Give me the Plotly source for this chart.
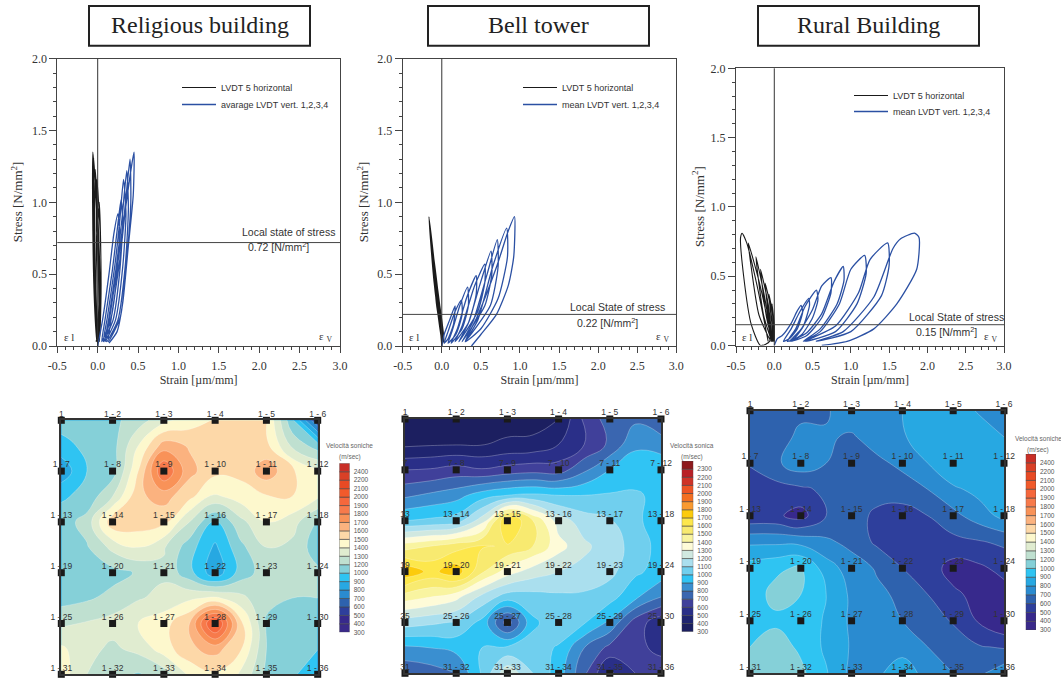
import numpy as np
import plotly.graph_objects as go

W, H = 1061, 679

TITLES = ["Religious building", "Bell tower", "Rural Building"]
LEGEND_BLACK = "LVDT 5 horizontal"
LEGEND_BLUE = ["avarage LVDT vert. 1,2,3,4", "mean LVDT vert. 1,2,3,4", "mean LVDT vert. 1,2,3,4"]
STATE_VALUES = [0.72, 0.22, 0.15]
STATE_TEXT = ["Local state of stress", "Local State of stress", "Local State of stress"]
STATE_VALUE_TEXT = ["0.72 [N/mm<sup>2</sup>]", "0.22 [N/mm<sup>2</sup>]", "0.15 [N/mm<sup>2</sup>]"]
STRAIN_TICKS = [-0.5, 0, 0.5, 1, 1.5, 2, 2.5, 3]
STRAIN_LABELS = ["-0.5", "0.0", "0.5", "1.0", "1.5", "2.0", "2.5", "3.0"]
STRESS_TICKS = [0, 0.5, 1, 1.5, 2]
STRESS_LABELS = ["0.0", "0.5", "1.0", "1.5", "2.0"]

P1_BLACK = [(0.00,0.0),(-0.02,0.40),(-0.01,0.7),(0.02,1.0),(0.04,0.6),(0.04,0.3),(0.02,0.03),
            (-0.02,0.3),(-0.02,0.7),(-0.01,1.16),(0.03,0.8),(0.04,0.4),(0.01,0.03),
            (-0.03,0.4),(-0.04,0.8),(-0.03,1.23),(0.01,0.8),(0.03,0.4),(0.0,0.03),
            (-0.04,0.4),(-0.05,0.9),(-0.05,1.31),(-0.01,0.9),(0.02,0.4),(-0.01,0.03),
            (-0.04,0.3),(-0.06,0.8),(-0.06,1.35),(-0.02,1.0),(0.01,0.5),(0.01,0.1),(-0.02,0.03)]
P1_BLUE = [(0.0,0.0),(0.06,0.18),(0.14,0.5),(0.20,0.78),(0.25,0.92),(0.27,0.80),(0.24,0.50),(0.16,0.18),(0.05,0.03),
           (0.09,0.18),(0.18,0.52),(0.24,0.80),(0.29,1.02),(0.31,0.85),(0.27,0.50),(0.19,0.18),(0.07,0.03),
           (0.12,0.2),(0.21,0.55),(0.27,0.85),(0.32,1.16),(0.35,0.92),(0.31,0.55),(0.22,0.18),(0.09,0.03),
           (0.14,0.2),(0.23,0.55),(0.30,0.88),(0.36,1.22),(0.38,0.95),(0.34,0.55),(0.25,0.18),(0.11,0.03),
           (0.15,0.2),(0.25,0.58),(0.33,0.92),(0.40,1.30),(0.41,1.0),(0.36,0.6),(0.28,0.2),(0.13,0.03),
           (0.17,0.2),(0.27,0.58),(0.35,0.98),(0.45,1.35),(0.44,1.05),(0.38,0.70),(0.31,0.30),(0.24,0.10),(0.14,0.02)]
P2_BLACK = [(0.02,0.03),(-0.04,0.2),(-0.05,0.32),(-0.01,0.2),(0.03,0.02),
            (-0.04,0.2),(-0.065,0.41),(-0.02,0.26),(0.03,0.03),
            (-0.05,0.25),(-0.08,0.49),(-0.03,0.3),(0.02,0.03),
            (-0.06,0.3),(-0.10,0.57),(-0.04,0.33),(0.01,0.03),
            (-0.07,0.3),(-0.115,0.66),(-0.05,0.38),(0.0,0.03),
            (-0.09,0.4),(-0.135,0.74),(-0.06,0.42),(0.01,0.03),
            (-0.10,0.45),(-0.15,0.82),(-0.07,0.45),(0.01,0.02),
            (-0.10,0.45),(-0.165,0.90),(-0.09,0.55),(-0.03,0.2),(0.0,0.0)]
P2_BLUE = [(0.0,0.0),(0.03,0.08),(0.10,0.18),(0.17,0.28),(0.15,0.15),(0.08,0.05),(0.03,0.02),
           (0.08,0.10),(0.17,0.24),(0.25,0.32),(0.26,0.22),(0.18,0.08),(0.08,0.02),
           (0.13,0.10),(0.23,0.28),(0.33,0.41),(0.34,0.28),(0.26,0.12),(0.12,0.02),
           (0.20,0.12),(0.32,0.34),(0.44,0.49),(0.44,0.36),(0.34,0.16),(0.17,0.03),
           (0.26,0.14),(0.42,0.42),(0.55,0.57),(0.55,0.44),(0.46,0.24),(0.22,0.03),
           (0.34,0.16),(0.50,0.45),(0.63,0.66),(0.64,0.50),(0.55,0.28),(0.26,0.03),
           (0.40,0.17),(0.58,0.50),(0.71,0.74),(0.72,0.55),(0.62,0.28),(0.30,0.03),
           (0.46,0.18),(0.65,0.55),(0.83,0.82),(0.84,0.62),(0.72,0.33),(0.50,0.12),(0.30,0.03),
           (0.45,0.2),(0.70,0.55),(0.85,0.80),(0.93,0.90),(0.92,0.62),(0.85,0.42),(0.70,0.22),(0.50,0.08),(0.38,0.0)]
P3_BLACK = [(0.0,0.03),(-0.02,0.2),(-0.03,0.30),(0.0,0.15),(0.0,0.03),
            (-0.04,0.2),(-0.07,0.37),(-0.02,0.22),(-0.01,0.03),
            (-0.07,0.2),(-0.12,0.45),(-0.05,0.28),(-0.02,0.03),
            (-0.10,0.2),(-0.18,0.55),(-0.08,0.3),(-0.03,0.03),
            (-0.14,0.22),(-0.24,0.64),(-0.13,0.36),(-0.04,0.03),
            (-0.20,0.22),(-0.31,0.60),(-0.34,0.74),(-0.18,0.42),(-0.06,0.03),
            (-0.18,0.0),(-0.30,0.15),(-0.40,0.50),(-0.44,0.78),(-0.42,0.81),(-0.36,0.74),(-0.22,0.42),(-0.08,0.03)]
P3_BLUE = [(0.00,0.00),(0.04,0.05),(0.10,0.07),(0.22,0.16),(0.30,0.25),(0.35,0.29),
           (0.37,0.24),(0.30,0.12),(0.20,0.05),(0.12,0.03),
           (0.22,0.12),(0.33,0.24),(0.45,0.34),(0.46,0.29),(0.38,0.14),(0.26,0.05),(0.17,0.03),
           (0.28,0.12),(0.40,0.28),(0.55,0.40),(0.57,0.33),(0.50,0.20),(0.36,0.08),(0.20,0.03),
           (0.34,0.11),(0.50,0.26),(0.62,0.43),(0.74,0.49),(0.74,0.38),(0.62,0.20),(0.42,0.07),(0.22,0.03),
           (0.42,0.09),(0.62,0.23),(0.78,0.46),(0.90,0.57),(0.91,0.47),(0.82,0.30),(0.60,0.12),(0.38,0.03),
           (0.60,0.10),(0.85,0.30),(1.00,0.55),(1.18,0.65),(1.20,0.52),(1.08,0.30),(0.80,0.10),(0.40,0.03),
           (0.80,0.14),(1.10,0.38),(1.25,0.62),(1.48,0.74),(1.50,0.58),(1.40,0.36),(1.00,0.10),(0.55,0.03),
           (0.90,0.10),(1.30,0.35),(1.55,0.70),(1.65,0.77),(1.83,0.81),(1.89,0.78),(1.86,0.55),(1.60,0.30),(1.30,0.12),(0.95,0.03),(0.62,0.0)]

GRID = [0, 0.5, 1, 1.5, 2, 2.5, 3, 3.5, 4, 4.5, 5]
Z1 = [[1100,1100,1150,1250,1370,1450,1510,1530,1510,1050,600],
      [960,1060,1120,1400,1650,1590,1540,1530,1530,1280,1100],
      [830,1000,1100,1500,1900,1630,1530,1530,1660,1520,1420],
      [985,1060,1300,1580,1640,1530,1380,1450,1490,1500,1420],
      [1100,1240,1570,1560,1530,1300,990,1270,1400,1350,1150],
      [1100,1180,1330,1400,1310,1090,880,1150,1300,1270,1100],
      [1080,1100,1130,1210,1280,1070,830,1090,1250,1230,1220],
      [1120,1170,1230,1290,1330,1380,1420,1330,1220,1200,1200],
      [1280,1310,1340,1400,1460,1600,2050,1530,1180,1100,1080],
      [1420,1330,1280,1330,1450,1580,1640,1510,1200,1100,1010],
      [1450,1300,1240,1180,1250,1420,1480,1390,1150,1060,880]]
Z2 = [[350,350,350,350,350,350,400,620,750,780,720],
      [380,390,395,395,420,430,500,600,720,880,850],
      [600,610,640,610,640,660,650,780,900,960,980],
      [780,820,860,950,1000,1020,1000,1000,1010,1010,980],
      [1000,1020,1050,1250,1720,1500,1250,1150,1110,1020,950],
      [1450,1500,1560,1610,1590,1500,1340,1220,1150,1060,960],
      [1780,1670,1760,1520,1350,1250,1200,1170,1130,1020,960],
      [1450,1400,1330,1170,1050,1060,1080,1080,1040,920,800],
      [1150,1120,1090,970,650,980,1060,1010,880,650,540],
      [880,900,930,1000,1020,1040,990,800,670,620,580],
      [720,750,800,1010,1280,1100,950,720,480,600,640]]
Z3 = [[650,660,680,690,750,780,800,860,860,790,760],
      [640,660,720,710,690,740,790,850,860,860,800],
      [610,680,760,700,660,680,720,800,900,860,850],
      [540,560,580,620,640,640,660,700,780,830,860],
      [520,520,460,600,640,580,550,600,670,750,830],
      [780,780,770,720,670,580,540,530,570,590,620],
      [950,980,1030,850,750,690,600,550,460,480,530],
      [950,1060,1000,900,780,720,680,600,520,470,460],
      [950,980,950,890,780,740,700,650,590,490,400],
      [1000,1100,980,880,790,760,780,700,660,610,590],
      [1100,1100,1050,910,770,790,830,780,700,680,760]]

LEVELS_A = [300,400,500,600,700,800,900,1000,1200,1300,1400,1500,1600,1700,1800,1900,2000,2100,2200,2400,2600]
LEVEL_LABELS_A = [300,400,500,600,700,800,900,1000,1200,1300,1400,1500,1600,1700,1800,1900,2000,2100,2200,2400]
COLORS_A = ["#3a2a8a","#37298c","#2e3f9c","#2e62ae","#2a8bd0","#27a8e2","#2fc4f2","#85d0d8","#bfe0d0","#e0ecd0",
            "#fdf8cd","#fdd8a8","#fbb27f","#f99258","#f77a4b","#f5673c","#f15a2b","#e84a24","#d94027","#c92f27"]
LEVELS_B = [300,400,500,600,700,800,900,1000,1100,1200,1300,1400,1500,1600,1700,1800,1900,2000,2100,2200,2300,2500]
LEVEL_LABELS_B = LEVELS_B[:-1]
COLORS_B = ["#1c1f60","#1f2470","#2a2f88","#40409a","#3a66b0","#3a8fd0","#30c4f4","#70cfee","#aadfee","#d0e8e0",
            "#fefbd8","#f9f4a0","#f8ea70","#fde74c","#fccb0c","#f99a30","#f36f21","#ed5424","#cf3327","#b92025","#8f1a1d"]

NODE_LABELS_A = ["1","1 - 2","1 - 3","1 - 4","1 - 5","1 - 6"] + [
    ("1 - %d" % k) for k in range(7, 37)]
NODE_LABELS_B = ["1","1 - 2","1 - 3","1 - 4","1 - 5","1 - 6",
                 "7","7 - 8","7 - 9","7 - 10","7 - 11","7 - 12",
                 "13","13 - 14","13 - 15","13 - 16","13 - 17","13 - 18",
                 "19","19 - 20","19 - 21","19 - 22","19 - 23","19 - 24",
                 "25","25 - 26","25 - 27","25 - 28","25 - 29","25 - 30",
                 "31","31 - 32","31 - 33","31 - 34","31 - 35","31 - 36"]
NODE_POS = [0, 1, 2, 3, 4, 5]
BAR_TITLES = [("Velocità soniche", "(m/sec)"), ("Velocità sonica", "(m/sec)"), ("Velocità soniche", "(m/sec)")]

SERIF = "Liberation Serif"
SANS = "Liberation Sans"
GREY = "#444444"


def px(x):
    return x / W


def py(y):
    return 1 - y / H


def ids(n):
    s = "" if n == 1 else str(n)
    return "x" + s, "y" + s, "xaxis" + s, "yaxis" + s


def note(text, x, y, font, **kw):
    return dict(text=text, xref="paper", yref="paper", x=px(x), y=py(y), showarrow=False,
                xanchor="center", yanchor="middle", font=font, **kw)


fig = go.Figure()
layout = dict(width=W, height=H, margin=dict(l=0, r=0, t=0, b=0, autoexpand=False), autosize=False,
              paper_bgcolor="white", plot_bgcolor="white", showlegend=True)
shapes, annots = [], []

# ---- pixel frames ----
LINE_BOX = [(57.3, 340, 58.7, 346), (402.7, 676.3, 58.7, 346), (736, 1004, 68.3, 345.5)]
TITLE_BOX = [(89, 310, 6, 45.7), (428, 649, 6, 45.7), (758, 979, 6, 45.7)]
YTITLE_X = [17, 363, 698]
LEG_X = [177, 518, 849]
LEG_Y = [(73, 90), (73, 90), (81, 97)]
STATE_TXT_X = [288, 617, 956]
STATE_VAL_X = [278, 607, 946]
MAP_BOX = [(61.3, 317.7, 420.3, 674.3), (405, 661, 419, 673.3), (750, 1004, 410.7, 673.3)]
BAR_BOX = [(339.3, 349.7, 463.3, 632.3), (681.7, 693.3, 461, 631.7), (1025.7, 1036, 454, 630)]
BAR_TITLE_X = [349.7, 692, 1038]
BAR_TITLE_Y = [445, 445, 438]
STATE_Y_OFF = [(232, 246), (307, 322), (317, 331)]

series = [(P1_BLACK, P1_BLUE), (P2_BLACK, P2_BLUE), (P3_BLACK, P3_BLUE)]

for i in range(3):
    xa, ya, xk, yk = ids(i + 1)
    x0, x1, y0, y1 = LINE_BOX[i]
    ax = dict(domain=[px(x0), px(x1)], range=[-0.5, 3], tickvals=STRAIN_TICKS, ticktext=STRAIN_LABELS,
              ticks="outside", ticklen=6, tickwidth=1, tickcolor=GREY, showline=True, linecolor=GREY, linewidth=1,
              mirror=True, showgrid=False, zeroline=False, anchor=ya, ticklabelstandoff=3,
              minor=dict(dtick=0.1, ticks="outside", ticklen=3, tickcolor=GREY, tickwidth=1, showgrid=False),
              tickfont=dict(family=SERIF, size=12, color="#333"),
              title=dict(text="Strain [µm/mm]", font=dict(family=SERIF, size=12, color="#333"), standoff=1))
    ay = dict(domain=[py(y1), py(y0)], range=[0, 2], tickvals=STRESS_TICKS, ticktext=STRESS_LABELS,
              ticks="outside", ticklen=7, tickwidth=1, tickcolor=GREY, showline=True, linecolor=GREY, linewidth=1,
              mirror=True, showgrid=False, zeroline=False, anchor=xa,
              minor=dict(dtick=0.1, ticks="outside", ticklen=3, tickcolor=GREY, tickwidth=1, showgrid=False),
              tickfont=dict(family=SERIF, size=12, color="#333"))
    layout[xk] = ax
    layout[yk] = ay
    annots.append(note("Stress [N/mm<sup>2</sup>]", YTITLE_X[i], (y0 + y1) / 2, dict(family=SERIF, size=13, color="#333"),
                       textangle=-90))

    black, blue = series[i]
    traces = ((black, LEGEND_BLACK, "#1a1a1a", 1.1), (blue, LEGEND_BLUE[i], "#2b50a3", 1.3))
    for j, (pts, name, col, lw) in enumerate(traces):
        leg = "legend" if (i == 0 and j == 0) else "legend%d" % (i * 2 + j + 1)
        fig.add_trace(go.Scatter(x=[p[0] for p in pts], y=[p[1] for p in pts], mode="lines", name=name,
                                 xaxis=xa, yaxis=ya, line=dict(color=col, width=lw, shape="spline", smoothing=0.6),
                                 legend=leg, hoverinfo="skip"))
        layout[leg] = dict(x=px(LEG_X[i]), y=py(LEG_Y[i][j]), xanchor="left", yanchor="top",
                           bgcolor="rgba(0,0,0,0)", itemwidth=34, itemclick=False,
                           font=dict(family=SANS, size=9, color="#333"))
    # reference lines
    shapes.append(dict(type="line", xref=xa, yref=ya + " domain", x0=0, x1=0, y0=0, y1=1,
                       line=dict(color="#333", width=1)))
    shapes.append(dict(type="line", xref=xa + " domain", yref=ya, x0=0, x1=1, y0=STATE_VALUES[i], y1=STATE_VALUES[i],
                       line=dict(color="#444", width=1)))
    sy1, sy2 = STATE_Y_OFF[i]
    annots.append(note(STATE_TEXT[i], STATE_TXT_X[i], sy1, dict(family=SANS, size=10.5, color="#333")))
    annots.append(note(STATE_VALUE_TEXT[i], STATE_VAL_X[i], sy2, dict(family=SANS, size=10.5, color="#333")))
    # epsilon marks
    annots.append(dict(text="ε l", xref=xa + " domain", yref=ya + " domain", x=0.04, y=0.03, showarrow=False,
                       xanchor="center", yanchor="middle", font=dict(family=SERIF, size=11, color="#333")))
    annots.append(dict(text="ε <sub>V</sub>", xref=xa + " domain", yref=ya + " domain", x=0.95, y=0.03,
                       xanchor="center", yanchor="middle", showarrow=False, font=dict(family=SERIF, size=11, color="#333")))
    # title box
    bx0, bx1, by0, by1 = TITLE_BOX[i]
    shapes.append(dict(type="rect", xref="paper", yref="paper", x0=px(bx0), x1=px(bx1), y0=py(by1), y1=py(by0),
                       line=dict(color="#222", width=2), fillcolor="white"))
    annots.append(note(TITLES[i], (bx0 + bx1) / 2, (by0 + by1) / 2 - 1, dict(family=SERIF, size=24, color="#222")))

# ---- contour maps ----
maps = [(Z1, LEVELS_A, COLORS_A, LEVEL_LABELS_A, NODE_LABELS_A),
        (Z2, LEVELS_B, COLORS_B, LEVEL_LABELS_B, NODE_LABELS_B),
        (Z3, LEVELS_A, COLORS_A, LEVEL_LABELS_A, NODE_LABELS_A)]

for i, (Z, levels, colors, lev_labels, node_labels) in enumerate(maps):
    xa, ya, xk, yk = ids(i + 4)
    x0, x1, y0, y1 = MAP_BOX[i]
    layout[xk] = dict(domain=[px(x0), px(x1)], range=[0, 5], showticklabels=False, ticks="",
                      showgrid=False, zeroline=False, showline=True, mirror=True,
                      linecolor="#333", linewidth=1.5, anchor=ya)
    layout[yk] = dict(domain=[py(y1), py(y0)], range=[5, 0], showticklabels=False, ticks="",
                      showgrid=False, zeroline=False, showline=True, mirror=True,
                      linecolor="#333", linewidth=1.5, anchor=xa)
    nb = len(colors)
    cs = []
    for k, c in enumerate(colors):
        cs.append([k / nb, c])
        cs.append([(k + 1) / nb, c])
    band = np.interp(np.array(Z, dtype=float), levels, np.arange(len(levels)))
    fig.add_trace(go.Contour(x=GRID, y=GRID, z=band.tolist(), xaxis=xa, yaxis=ya, zmin=0, zmax=nb,
                             colorscale=cs, showscale=False, autocontour=False,
                             contours=dict(start=0, end=nb, size=1, coloring="fill", showlines=True),
                             line=dict(color="rgba(255,255,255,0.45)", width=0.6, smoothing=1.3),
                             showlegend=False, hoverinfo="skip"))
    gx = [p for _ in NODE_POS for p in NODE_POS]
    gy = [r for r in NODE_POS for _ in NODE_POS]
    fig.add_trace(go.Scatter(x=gx, y=gy, mode="markers", cliponaxis=False,
                             marker=dict(symbol="square", size=7, color="#1a1a1a"), xaxis=xa, yaxis=ya,
                             showlegend=False, hoverinfo="skip"))
    fig.add_trace(go.Scatter(x=gx, y=gy, mode="markers+text", text=node_labels, textposition="top center",
                             textfont=dict(family=SANS, size=8.5, color="#333"), cliponaxis=False,
                             marker=dict(size=1, opacity=0), xaxis=xa, yaxis=ya, showlegend=False, hoverinfo="skip"))
    # colour key
    xb, yb, xbk, ybk = ids(i + 7)
    bx0, bx1, by0, by1 = BAR_BOX[i]
    layout[xbk] = dict(domain=[px(bx0), px(bx1)], range=[-0.5, 0.5], visible=False, anchor=yb)
    layout[ybk] = dict(domain=[py(by1), py(by0)], range=[0, nb], side="right", anchor=xb, showgrid=False,
                       zeroline=False, showline=False, ticks="", tickvals=list(range(nb)),
                       ticktext=[str(v) for v in lev_labels], ticklabelstandoff=3,
                       tickfont=dict(family=SANS, size=6.5, color="#555"))
    fig.add_trace(go.Bar(x=[0] * nb, y=[1] * nb, base=list(range(nb)), width=1, marker=dict(
        color=colors, line=dict(color="#444", width=0.6)), xaxis=xb, yaxis=yb, showlegend=False, hoverinfo="skip"))
    t1, t2 = BAR_TITLES[i]
    annots.append(note(t1, BAR_TITLE_X[i], BAR_TITLE_Y[i], dict(family=SANS, size=6.5, color="#666")))
    annots.append(note(t2, BAR_TITLE_X[i], BAR_TITLE_Y[i] + 12, dict(family=SANS, size=6.5, color="#666")))

layout["shapes"] = shapes
layout["annotations"] = annots
fig.update_layout(**layout)
fig.write_html("out.html", config={"displayModeBar": False}, post_script="document.body.style.margin='0';")
